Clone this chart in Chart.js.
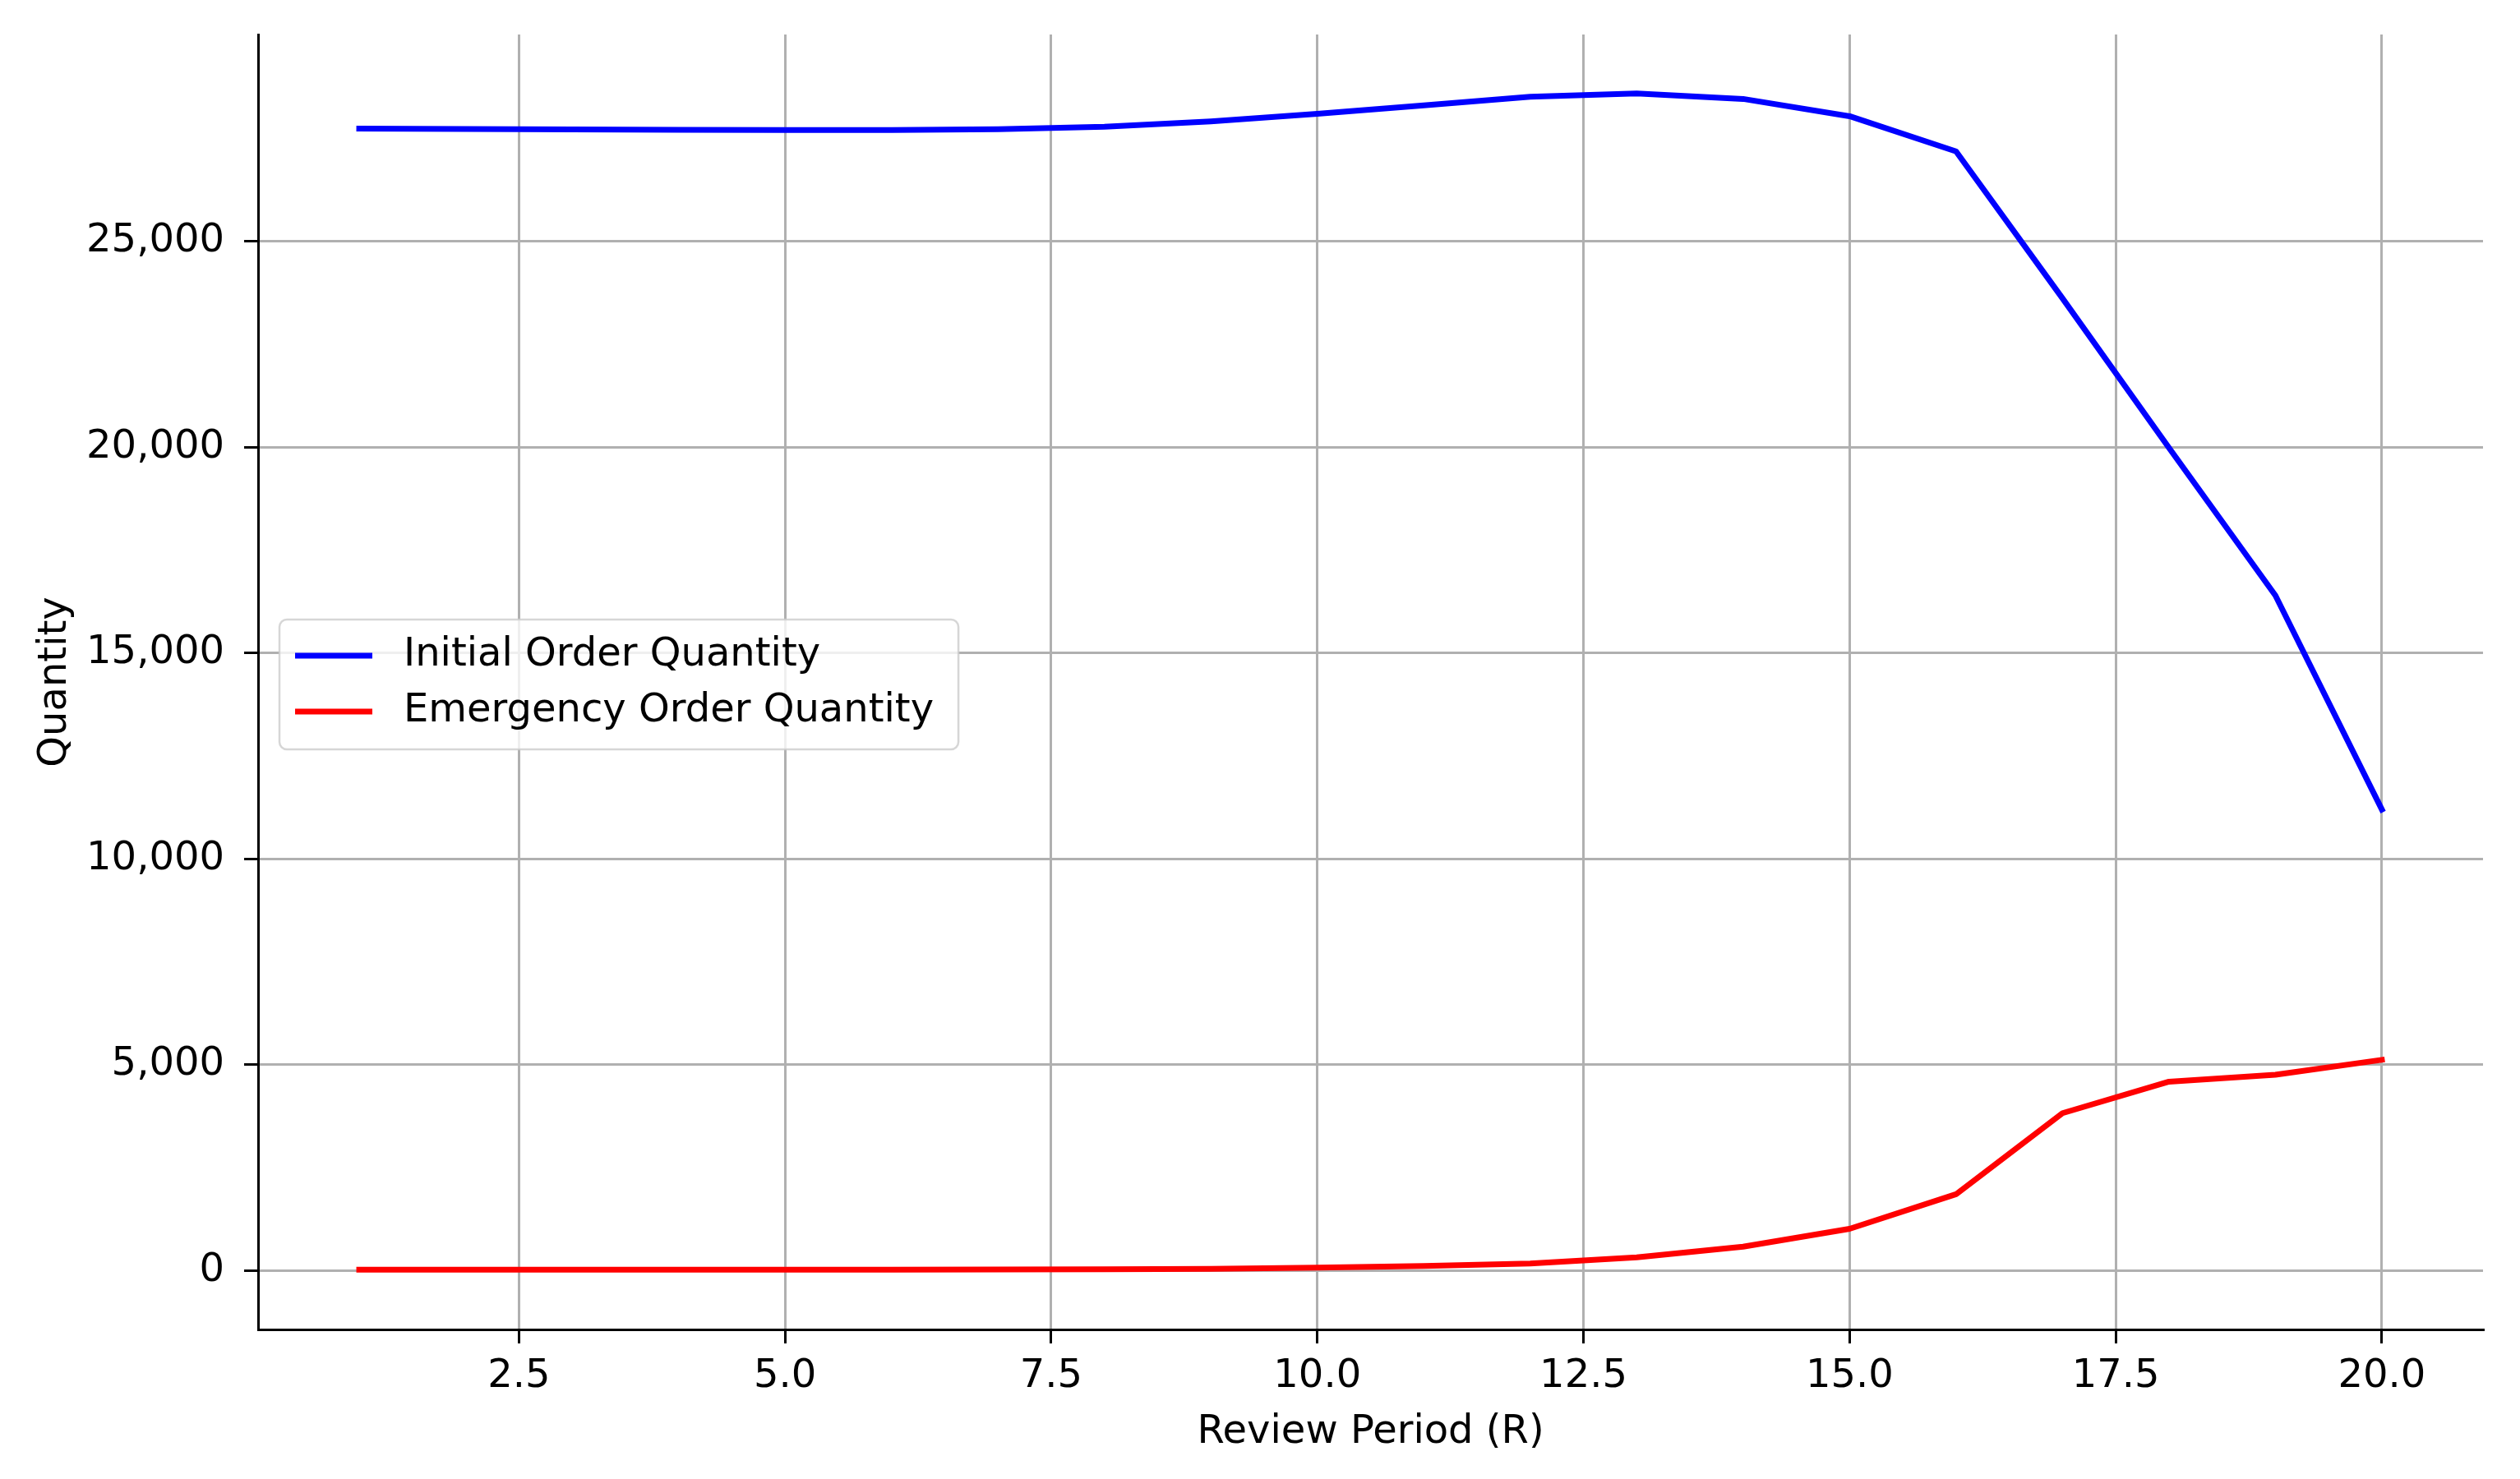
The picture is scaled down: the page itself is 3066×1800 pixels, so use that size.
<!DOCTYPE html>
<html>
<head>
<meta charset="utf-8">
<script src="https://cdn.jsdelivr.net/npm/chart.js@4.4.1/dist/chart.umd.min.js"></script>
<style>
  html, body { margin: 0; padding: 0; background: #fff; }
  #wrap { width: 3066px; height: 1800px; }
</style>
</head>
<body>
<div id="wrap"><canvas id="grafico" width="3066" height="1800"></canvas></div>
<script>
// dados
const reviewPeriod = [1, 2, 3, 4, 5, 6, 7, 8, 9, 10, 11, 12, 13, 14, 15, 16, 17, 18, 19, 20];
const initialOrderQty = [27745, 27735, 27725, 27715, 27710, 27710, 27730, 27790, 27920, 28105,
                         28310, 28520, 28600, 28465, 28045, 27190, 23620, 19990, 16400, 11200];
const emergencyOrderQty = [20, 20, 20, 20, 20, 20, 25, 30, 40, 70,
                           110, 170, 320, 580, 1015, 1855, 3825, 4590, 4760, 5120];
const xTicks = [2.5, 5, 7.5, 10, 12.5, 15, 17.5, 20];
const yTicks = [0, 5000, 10000, 15000, 20000, 25000];

const FONT = 'DejaVu Sans';
const FS = 48;

Chart.defaults.font.family = FONT;
Chart.defaults.font.size = FS;
Chart.defaults.color = '#000';

// legenda com moldura dentro da area do grafico (centro esquerda)
const legendBox = {
  id: 'legendBox',
  afterDraw(chart) {
    const ctx = chart.ctx;
    const area = chart.chartArea;
    const items = chart.data.datasets;
    const rowH = 68;
    ctx.save();
    ctx.font = FS + 'px "' + FONT + '"';
    const textW = Math.max(...items.map(d => ctx.measureText(d.label).width));
    const w = 19 + 94 + 38 + textW + 30;
    const h = 158;
    const x0 = area.left + 26;
    const y0 = (area.top + area.bottom) / 2 - h / 2 + 3;
    ctx.beginPath();
    ctx.roundRect(x0, y0, w, h, 9);
    ctx.fillStyle = 'rgba(255,255,255,0.8)';
    ctx.fill();
    ctx.lineWidth = 2.5;
    ctx.strokeStyle = 'rgba(204,204,204,0.8)';
    ctx.stroke();
    items.forEach((d, i) => {
      const yy = y0 + 44 + i * rowH;
      ctx.beginPath();
      ctx.moveTo(x0 + 19, yy);
      ctx.lineTo(x0 + 19 + 94, yy);
      ctx.strokeStyle = d.borderColor;
      ctx.lineWidth = 7;
      ctx.stroke();
      ctx.fillStyle = '#000';
      ctx.textBaseline = 'middle';
      ctx.textAlign = 'left';
      ctx.fillText(d.label, x0 + 19 + 94 + 38, yy);
    });
    ctx.restore();
  }
};

const gridOpts = { color: '#b0b0b0', lineWidth: 3, tickColor: '#000', tickLength: 17, tickWidth: 3 };

new Chart(document.getElementById('grafico'), {
  type: 'line',
  data: {
    datasets: [{
      label: 'Initial Order Quantity',
      data: reviewPeriod.map((r, i) => ({ x: r, y: initialOrderQty[i] })),
      borderColor: '#0000ff',
      borderWidth: 7,
      pointRadius: 0,
      tension: 0,
      borderJoinStyle: 'round',
      borderCapStyle: 'square'
    }, {
      label: 'Emergency Order Quantity',
      data: reviewPeriod.map((r, i) => ({ x: r, y: emergencyOrderQty[i] })),
      borderColor: '#ff0000',
      borderWidth: 7,
      pointRadius: 0,
      tension: 0,
      borderJoinStyle: 'round',
      borderCapStyle: 'square'
    }]
  },
  options: {
    responsive: false,
    devicePixelRatio: 1,
    animation: false,
    layout: { padding: { top: 42, right: 45, bottom: 0, left: 0 } },
    plugins: { legend: { display: false }, tooltip: { enabled: false } },
    scales: {
      x: {
        type: 'linear',
        min: 0.05,
        max: 20.95,
        afterBuildTicks: s => { s.ticks = xTicks.map(v => ({ value: v })); },
        afterFit: s => { s.height = 182; s.paddingLeft = 0; s.paddingRight = 0; },
        ticks: { callback: v => v.toFixed(1), padding: 12, maxRotation: 0, autoSkip: false },
        grid: gridOpts,
        border: { color: '#000', width: 3 },
        title: { display: true, text: 'Review Period (R)', padding: { top: 0, bottom: 28 } }
      },
      y: {
        min: -1430,
        max: 30030,
        afterBuildTicks: s => { s.ticks = yTicks.map(v => ({ value: v })); },
        afterFit: s => { s.width = 314; s.paddingTop = 0; s.paddingBottom = 0; },
        ticks: { callback: v => v.toLocaleString('en-US'), padding: 24 },
        grid: gridOpts,
        border: { color: '#000', width: 3 },
        title: { display: true, text: 'Quantity', padding: { top: 39, bottom: 0 } }
      }
    }
  },
  plugins: [legendBox]
});
</script>
</body>
</html>
